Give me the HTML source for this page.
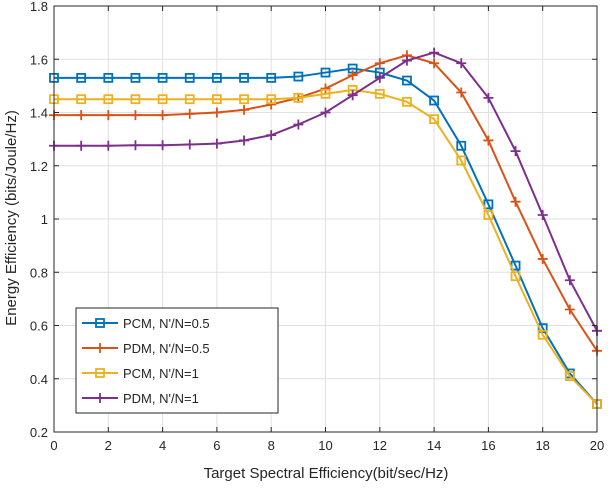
<!DOCTYPE html>
<html><head><meta charset="utf-8"><style>
body{margin:0;background:#fff;}
svg text{font-family:"Liberation Sans",sans-serif;fill:#262626;}
</style></head><body>
<svg width="608" height="486" viewBox="0 0 608 486">
<g id="grid"></g>
<g id="series"></g>
<g id="axes"></g>
<text x="326" y="478" text-anchor="middle" font-size="15">Target Spectral Efficiency(bit/sec/Hz)</text>
<text transform="translate(16,218) rotate(-90)" text-anchor="middle" font-size="15">Energy Efficiency (bits/Joule/Hz)</text>
<g id="legend"></g>
</svg>
<script>
const xs=[0,1,2,3,4,5,6,7,8,9,10,11,12,13,14,15,16,17,18,19,20];
const pcm05=[1.53,1.53,1.53,1.53,1.53,1.53,1.53,1.53,1.53,1.535,1.55,1.565,1.55,1.52,1.445,1.275,1.055,0.825,0.59,0.42,0.305];
const pdm05=[1.39,1.39,1.39,1.39,1.39,1.395,1.40,1.41,1.43,1.455,1.49,1.54,1.585,1.615,1.585,1.475,1.295,1.065,0.85,0.66,0.505];
const pcm1=[1.45,1.45,1.45,1.45,1.45,1.45,1.45,1.45,1.45,1.455,1.47,1.485,1.47,1.44,1.375,1.22,1.015,0.785,0.565,0.41,0.305];
const pdm1=[1.275,1.275,1.275,1.277,1.277,1.28,1.283,1.295,1.315,1.355,1.40,1.465,1.53,1.595,1.625,1.585,1.455,1.255,1.015,0.77,0.58];
const xTicks=[0,2,4,6,8,10,12,14,16,18,20];
const yTicks=[0.2,0.4,0.6,0.8,1,1.2,1.4,1.6,1.8];
const seriesNames=["PCM, N'/N=0.5","PDM, N'/N=0.5","PCM, N'/N=1","PDM, N'/N=1"];
const NS="http://www.w3.org/2000/svg";
const X0=54,X1=597,Y0=432,Y1=6;
const sx=v=>X0+(v-0)/20*(X1-X0);
const sy=v=>Y0-(v-0.2)/1.6*(Y0-Y1);
function mk(tag,attrs,parent){const e=document.createElementNS(NS,tag);for(const k in attrs)e.setAttribute(k,attrs[k]);parent.appendChild(e);return e;}
const grid=document.getElementById('grid'),axes=document.getElementById('axes'),ser=document.getElementById('series'),leg=document.getElementById('legend');
xTicks.forEach(t=>{const x=sx(t);
 const g=mk('line',{x1:x,x2:x,y1:Y1,y2:Y0,stroke:'#e0e0e0','stroke-width':1},grid);
 
 mk('line',{x1:x,x2:x,y1:Y0,y2:Y0-5,stroke:'#262626'},axes);
 mk('line',{x1:x,x2:x,y1:Y1,y2:Y1+5,stroke:'#262626'},axes);
 const tx=mk('text',{x:x,y:Y0+18,'text-anchor':'middle','font-size':13},axes);tx.textContent=t;
 });
yTicks.forEach(t=>{const y=sy(t);
 const g=mk('line',{x1:X0,x2:X1,y1:y,y2:y,stroke:'#e0e0e0','stroke-width':1},grid);
 
 mk('line',{x1:X0,x2:X0+5,y1:y,y2:y,stroke:'#262626'},axes);
 mk('line',{x1:X1,x2:X1-5,y1:y,y2:y,stroke:'#262626'},axes);
 const tx=mk('text',{x:X0-6,y:y+5,'text-anchor':'end','font-size':13},axes);tx.textContent=t;
 });
mk('rect',{x:X0,y:Y1,width:X1-X0,height:Y0-Y1,fill:'none',stroke:'#262626','stroke-width':1},axes);
function marker(x,y,type,color,parent){
 if(type==='sq'){mk('rect',{x:x-4,y:y-4,width:8,height:8,fill:'none',stroke:color,'stroke-width':1.8},parent);}
 else{mk('path',{d:`M${x-5},${y}H${x+5}M${x},${y-5}V${y+5}`,stroke:color,'stroke-width':1.8},parent);}
}
const defs=[[pcm05,'#0072BD','sq','series-pcm-0.5'],[pdm05,'#D95319','plus','series-pdm-0.5'],[pcm1,'#EDB120','sq','series-pcm-1'],[pdm1,'#7E2F8E','plus','series-pdm-1']];
defs.forEach(([d,c,m,n])=>{
 const g=mk('g',{},ser);
 mk('polyline',{points:xs.map((x,i)=>sx(x)+','+sy(d[i])).join(' '),fill:'none',stroke:c,'stroke-width':2},g);
 xs.forEach((x,i)=>marker(sx(x),sy(d[i]),m,c,g));
});
mk('rect',{x:76,y:308,width:202,height:105,fill:'#fff',stroke:'#262626','stroke-width':1},leg);
defs.forEach(([d,c,m,n],i)=>{const y=323+i*25;
 const g=mk('g',{},leg);
 mk('line',{x1:82,x2:118,y1:y,y2:y,stroke:c,'stroke-width':2},g);
 marker(100,y,m,c,g);
 const t=mk('text',{x:123,y:y+5,'font-size':13},g);t.textContent=seriesNames[i];
});
</script>
</body></html>
